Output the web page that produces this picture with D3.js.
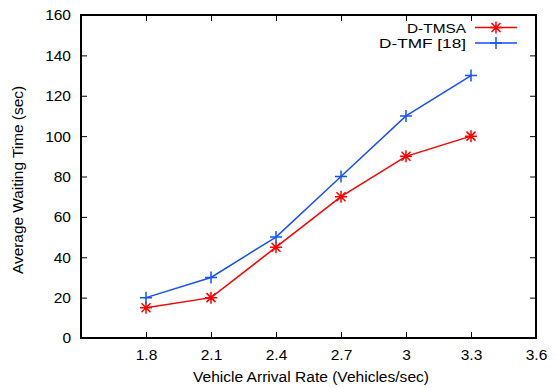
<!DOCTYPE html>
<html><head><meta charset="utf-8">
<script src="https://cdn.jsdelivr.net/npm/d3@7"></script>
<style>body{margin:0;background:#fff}svg{display:block}text{font-family:"Liberation Sans",Arial,sans-serif}</style>
</head><body>
<script>
const rates = [1.8, 2.1, 2.4, 2.7, 3.0, 3.3];
const dtmsa = [15, 20, 45, 70, 90, 100];
const dtmf = [20, 30, 50, 80, 110, 130];
const xTicks = [1.8, 2.1, 2.4, 2.7, 3.0, 3.3, 3.6];
const yTicks = [0, 20, 40, 60, 80, 100, 120, 140, 160];
const seriesNames = ["D-TMSA", "D-TMF [18]"];

const W = 556, H = 388;
const m = {l: 81, r: 20, t: 15, b: 50};
const svg = d3.select("body").append("svg").attr("width", W).attr("height", H);
const x = d3.scaleLinear().domain([1.5, 3.6]).range([m.l, W - m.r]);
const y = d3.scaleLinear().domain([0, 160]).range([H - m.b, m.t]);
const fs = 15.5;

const fmtX = d => (Math.round(d*10)/10 === Math.round(d) ? String(Math.round(d)) : d.toFixed(1));
const gx = svg.append("g").attr("transform", `translate(0,${y(0)})`)
  .call(d3.axisBottom(x).tickValues(xTicks).tickFormat(fmtX).tickSizeInner(-6).tickSizeOuter(0).tickPadding(11));
const gxt = svg.append("g").attr("transform", `translate(0,${y(160)})`)
  .call(d3.axisTop(x).tickValues(xTicks).tickFormat("").tickSizeInner(-6).tickSizeOuter(0));
const gy = svg.append("g").attr("transform", `translate(${x(1.5)},0)`)
  .call(d3.axisLeft(y).tickValues(yTicks).tickSizeInner(-6).tickSizeOuter(0).tickPadding(10));
const gyr = svg.append("g").attr("transform", `translate(${x(3.6)},0)`)
  .call(d3.axisRight(y).tickValues(yTicks).tickFormat("").tickSizeInner(-6).tickSizeOuter(0));
[gx, gxt, gy, gyr].forEach(g => {
  g.select(".domain").remove();
  g.selectAll("line").attr("stroke", "#000").attr("stroke-width", 1);
  g.selectAll("text").attr("font-size", fs).attr("fill", "#000").attr("font-family", '"Liberation Sans",Arial,sans-serif');
});
svg.append("rect").attr("x", x(1.5)).attr("y", y(160)).attr("width", x(3.6) - x(1.5)).attr("height", y(0) - y(160))
  .attr("fill", "none").attr("stroke", "#000").attr("stroke-width", 2);

svg.append("text").attr("x", 311).attr("y", 382).attr("text-anchor", "middle")
  .attr("font-size", fs).attr("textLength", 236).attr("lengthAdjust", "spacingAndGlyphs").text("Vehicle Arrival Rate (Vehicles/sec)");
svg.append("text").attr("transform", `translate(23,180) rotate(-90)`).attr("text-anchor", "middle")
  .attr("font-size", fs).attr("textLength", 188).attr("lengthAdjust", "spacingAndGlyphs").text("Average Waiting Time (sec)");

const colors = ["#ff0000", "#1450ff"];
const line = d3.line().x((d, i) => x(rates[i])).y(d => y(d));

function plus(g, cx, cy, s, c) {
  g.append("path").attr("d", `M${cx - s},${cy}H${cx + s}M${cx},${cy - s}V${cy + s}`).attr("stroke", c).attr("stroke-width", 1.5).attr("fill", "none");
}
function star(g, cx, cy, s, c) {
  const d = s * 0.75;
  g.append("path").attr("d", `M${cx - s},${cy}H${cx + s}M${cx},${cy - s}V${cy + s}M${cx - d},${cy - d}L${cx + d},${cy + d}M${cx - d},${cy + d}L${cx + d},${cy - d}`)
    .attr("stroke", c).attr("stroke-width", 1.5).attr("fill", "none");
}
const markers = [star, plus];
[dtmsa, dtmf].forEach((vals, k) => {
  const g = svg.append("g");
  g.append("path").datum(vals).attr("d", line).attr("fill", "none").attr("stroke", colors[k]).attr("stroke-width", 1.5);
  vals.forEach((v, i) => markers[k](g, x(rates[i]), y(v), 6, colors[k]));
});

const legendLen = [59, 87];
seriesNames.forEach((n, k) => {
  const ly = 27.5 + k * 15.5;
  svg.append("text").attr("x", 466).attr("y", ly + 5).attr("text-anchor", "end").attr("font-size", 13.5)
    .attr("textLength", legendLen[k]).attr("lengthAdjust", "spacingAndGlyphs").text(n);
  svg.append("line").attr("x1", 475).attr("x2", 517).attr("y1", ly).attr("y2", ly).attr("stroke", colors[k]).attr("stroke-width", 1.5);
  markers[k](svg, 496, ly, 6, colors[k]);
});
</script>
</body></html>
